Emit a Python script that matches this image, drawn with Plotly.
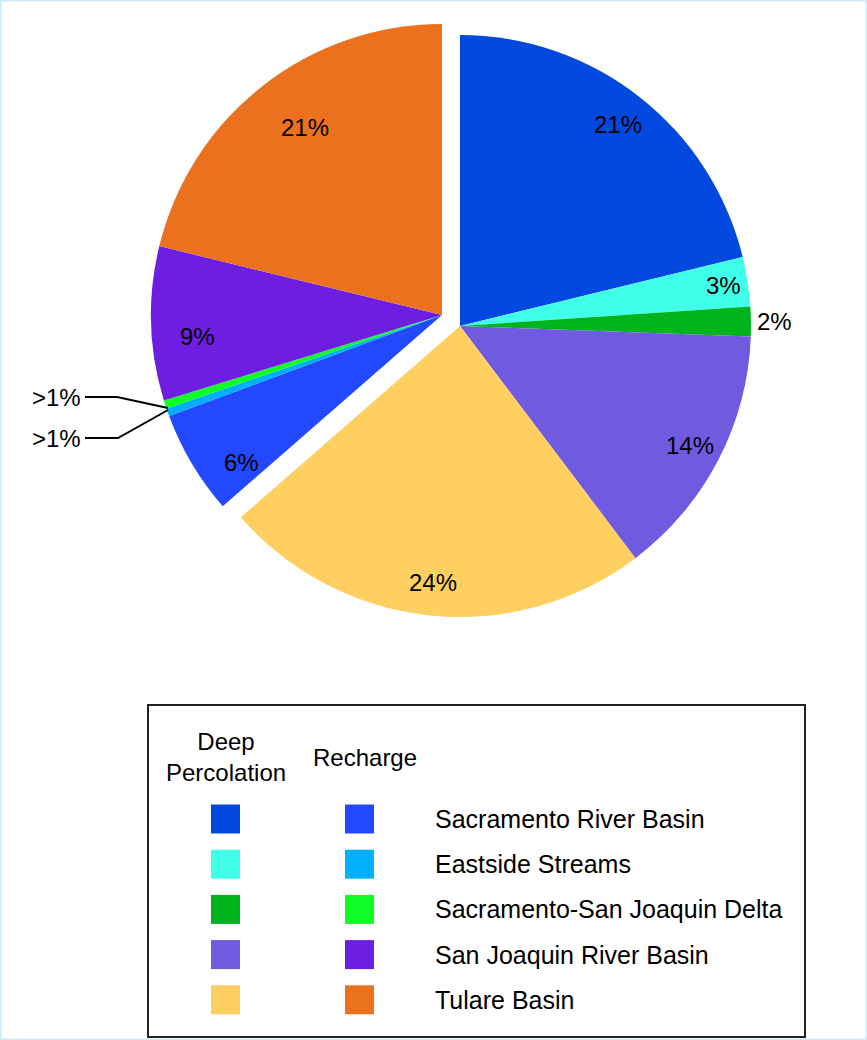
import math
import plotly.graph_objects as go

W, H = 867, 1040

regions = ["Sacramento River Basin", "Eastside Streams", "Sacramento-San Joaquin Delta",
           "San Joaquin River Basin", "Tulare Basin"]
dp_values = [21.3, 2.75, 1.65, 14.2, 24.0]
rc_values = [5.8, 0.45, 0.45, 8.6, 21.3]
dp_text = ["21%", "3%", "2%", "14%", "24%"]
rc_text = ["6%", ">1%", ">1%", "9%", "21%"]
dp_colors = ["#0048DE", "#40FFE8", "#00B41E", "#705AE0", "#FFD060"]
rc_colors = ["#2249FF", "#00B0FF", "#10FF26", "#6E1EE0", "#EC711E"]

FONT = "Arial, 'Liberation Sans', sans-serif"
FS = 24
CLEAR = "rgba(0,0,0,0)"

def px(x):
    return x / W

def py(y):
    return 1 - y / H

all_values = dp_values + rc_values
labels = ["DP " + r for r in regions] + ["R " + r for r in regions]

DP_C, RC_C, R = (460, 326), (442, 315), 291

def pie(center, colors):
    cx, cy = center
    return go.Pie(
        labels=labels, values=all_values, sort=False, direction="clockwise", rotation=0,
        marker=dict(colors=colors, line=dict(width=0)),
        textinfo="none",
        domain=dict(x=[px(cx - R), px(cx + R)], y=[py(cy + R), py(cy - R)]),
        hoverinfo="skip", showlegend=False,
    )

fig = go.Figure()
fig.add_trace(pie(DP_C, dp_colors + [CLEAR] * 5))
fig.add_trace(pie(RC_C, [CLEAR] * 5 + rc_colors))

shapes = []
annotations = []

# percentage labels positioned from the slice angles (radial fraction, angular nudge in degrees)
total = sum(all_values)
texts = dp_text + rc_text
radial = [0.88, 0.915, 1.08, 0.89, 0.885, 0.856, None, None, 0.842, 0.80]
nudge = [0, 0, 0, 0, 0, -5.6, 0, 0, -3.4, 2.0]
cum = 0.0
for i, v in enumerate(all_values):
    mid = (cum + v / 2) / total * 2 * math.pi + math.radians(nudge[i])
    cum += v
    f = radial[i]
    if f is None:
        continue
    cx, cy = DP_C if i < 5 else RC_C
    x = cx + f * R * math.sin(mid)
    y = cy - f * R * math.cos(mid)
    annotations.append(dict(x=px(x), y=py(y), xref="paper", yref="paper", text=texts[i],
                            showarrow=False, xanchor="center", yanchor="middle",
                            font=dict(family=FONT, size=FS, color="black")))

# leader lines for the two tiny recharge slices
leaders = [((85, 397), (117, 397), (168, 408), rc_text[1]),
           ((85, 438), (118, 438), (168, 410), rc_text[2])]
for (x0, y0), (x1, y1), (x2, y2), t in leaders:
    shapes.append(dict(type="path", xref="paper", yref="paper",
                       path=f"M {px(x0)},{py(y0)} L {px(x1)},{py(y1)} L {px(x2)},{py(y2)}",
                       line=dict(color="black", width=2)))
    annotations.append(dict(x=px(x0 - 2), y=py(y0), xref="paper", yref="paper", text=t,
                            showarrow=False, xanchor="right", yanchor="middle",
                            font=dict(family=FONT, size=FS, color="black")))

# legend box
shapes.append(dict(type="rect", xref="paper", yref="paper",
                   x0=px(148), x1=px(805), y0=py(1037), y1=py(705),
                   line=dict(color="#222222", width=2), fillcolor="white", layer="below"))
annotations.append(dict(x=px(226), y=py(757), xref="paper", yref="paper",
                        text="Deep<br>Percolation", showarrow=False, align="center",
                        xanchor="center", yanchor="middle",
                        font=dict(family=FONT, size=FS, color="black")))
annotations.append(dict(x=px(365), y=py(757), xref="paper", yref="paper",
                        text="Recharge", showarrow=False, xanchor="center", yanchor="middle",
                        font=dict(family=FONT, size=FS, color="black")))
row0, step = 819, 45.2
for i, name in enumerate(regions):
    yc = row0 + i * step
    for xc, col in ((225.5, dp_colors[i]), (359.5, rc_colors[i])):
        shapes.append(dict(type="rect", xref="paper", yref="paper",
                           x0=px(xc - 14.5), x1=px(xc + 14.5),
                           y0=py(yc + 14.5), y1=py(yc - 14.5),
                           fillcolor=col, line=dict(width=0)))
    annotations.append(dict(x=px(433), y=py(yc), xref="paper", yref="paper", text=name,
                            showarrow=False, xanchor="left", yanchor="middle",
                            font=dict(family=FONT, size=25, color="black")))

# outer frame
shapes.append(dict(type="rect", xref="paper", yref="paper", x0=0, x1=1, y0=0, y1=1,
                   line=dict(color="#CDEBFA", width=3)))

fig.update_layout(
    width=W, height=H, margin=dict(l=0, r=0, t=0, b=0),
    paper_bgcolor="white", plot_bgcolor="white",
    shapes=shapes, annotations=annotations,
    font=dict(family=FONT),
)

fig.write_html("out.html", config={"displayModeBar": False},
               post_script="document.body.style.margin='0';")
